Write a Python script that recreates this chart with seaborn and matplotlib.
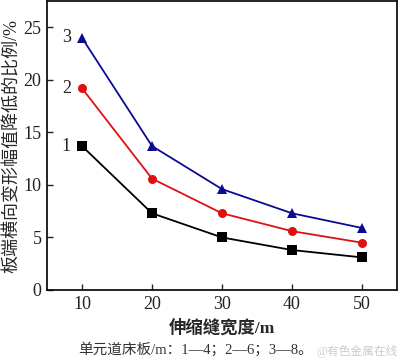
import matplotlib
matplotlib.use('Agg')
import matplotlib.pyplot as plt
import pandas as pd
import seaborn as sns

# Data.
widths = [10, 20, 30, 40, 50]
slab_1 = [13.7, 7.3, 5.0, 3.8, 3.1]
slab_2 = [19.2, 10.6, 7.3, 5.6, 4.5]
slab_3 = [24.0, 13.7, 9.6, 7.3, 5.9]
series_names = ['1', '2', '3']

sns.set_theme(style='ticks')
plt.rcParams['font.family'] = ['Liberation Serif', 'Noto Sans CJK SC', 'DejaVu Sans']
plt.rcParams['xtick.direction'] = 'in'
plt.rcParams['ytick.direction'] = 'in'

df = pd.DataFrame({
    'width': widths * 3,
    'value': slab_1 + slab_2 + slab_3,
    'series': [s for s in series_names for _ in widths],
})

colors = {'1': '#000000', '2': '#e01010', '3': '#0a0a96'}
markers = {'1': 's', '2': 'o', '3': '^'}

fig = plt.figure(figsize=(4.0, 3.62), dpi=100)
ax = fig.add_axes([0.1175, 0.199, 0.875, 0.798])

sns.lineplot(data=df, x='width', y='value', hue='series', style='series',
             palette=colors, markers=markers, dashes=False, markersize=6.5,
             markeredgewidth=0, linewidth=1.3, legend=False, ax=ax)

# Series numbers next to the first points.
for name, vals in zip(series_names, [slab_1, slab_2, slab_3]):
    ax.text(widths[0] - 1.6, vals[0], name, fontsize=13,
            ha='right', va='center', color='#222222')

ax.set_xlim(5, 55)
ax.set_ylim(0, 27.5)
ax.set_xticks([10, 20, 30, 40, 50])
ax.set_yticks([0, 5, 10, 15, 20, 25])
ax.tick_params(labelsize=13, length=4, width=1, colors='#222222', pad=4)
for s in ax.spines.values():
    s.set_linewidth(1.3)
    s.set_color('#111111')

ax.set_xlabel('伸缩缝宽度/m', fontsize=12.5, fontweight='bold', labelpad=5)
ax.set_ylabel('板端横向变形幅值降低的比例/%', fontsize=13, labelpad=2)

fig.text(0.49, 0.035, '单元道床板/m：1—4；2—6；3—8。', fontsize=10.5,
         ha='center', va='center', color='#333333')
fig.text(0.995, 0.028, '@有色金属在线', fontsize=8.5, ha='right',
         va='center', color='#cccccc')

fig.savefig('out.png', dpi=100)
